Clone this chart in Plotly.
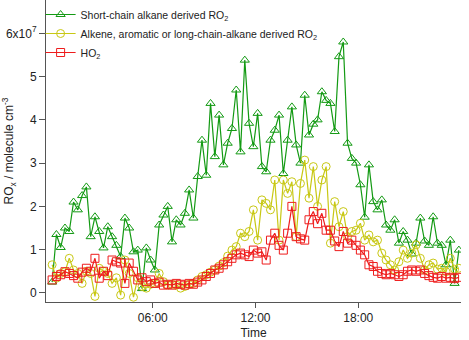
import plotly.graph_objects as go
import pandas as pd

# 15-minute time grid over one day
times = pd.date_range("2000-01-01 00:07:30", periods=96, freq="15min")

# values in units of 1e7 molecule cm^-3
short_chain_ro2 = [
    0.25, 1.35, 1.05, 1.50, 1.42, 2.10, 1.92, 2.25, 2.45, 1.30,
    1.76, 1.42, 1.04, 1.53, 1.30, 1.10, 0.84, 1.73, 1.50, 0.95,
    0.99, 0.10, 1.04, 0.76, 0.53, 1.57, 1.80, 2.00, 1.18, 1.69,
    1.57, 1.84, 2.38, 1.73, 2.69, 3.53, 2.72, 4.38, 3.15, 4.11,
    2.96, 3.46, 3.80, 4.69, 3.26, 5.38, 3.92, 3.38, 4.15, 2.92,
    2.80, 3.53, 3.76, 4.11, 2.76, 3.53, 4.30, 3.42, 3.00, 4.57,
    3.65, 3.90, 4.00, 4.65, 4.45, 4.38, 3.73, 5.46, 5.80, 3.46,
    3.11, 3.00, 2.50, 1.75, 2.96, 2.11, 1.92, 2.15, 1.57, 1.45,
    1.69, 1.15, 1.42, 1.22, 0.90, 1.15, 1.73, 1.20, 1.10, 1.76,
    1.15, 1.10, 0.65, 1.22, 0.22, 0.99,
]
alkene_ro2 = [
    0.65, 0.34, 0.45, 0.49, 0.80, 0.53, 0.45, 0.22, 0.50, 0.45,
    -0.08, 0.57, 0.50, 0.45, 0.22, 0.35, -0.05, 0.76, 0.45, -0.10,
    0.35, 0.15, 0.11, 0.20, 0.22, 0.45, 0.26, 0.18, 0.20, 0.18,
    0.11, 0.15, 0.20, 0.22, 0.30, 0.38, 0.42, 0.48, 0.53, 0.62,
    0.70, 0.85, 0.99, 1.07, 1.38, 1.30, 1.42, 1.92, 1.22, 2.15,
    2.07, 1.92, 2.61, 1.22, 2.61, 2.30, 2.57, 1.30, 2.53, 3.07,
    2.19, 2.92, 2.00, 2.61, 2.92, 1.15, 2.11, 1.53, 1.88, 1.30,
    1.42, 1.45, 1.61, 1.22, 1.34, 1.18, 1.22, 0.92, 0.76, 0.65,
    0.53, 0.72, 0.99, 0.80, 0.92, 1.11, 0.80, 0.53, 0.65, 0.69,
    0.55, 0.57, 0.49, 0.80, 0.55, 0.57,
]
ho2 = [
    0.30, 0.38, 0.42, 0.49, 0.45, 0.40, 0.34, 0.48, 0.57, 0.50,
    0.80, 0.34, 0.50, 0.40, 0.76, 0.72, 0.69, 0.22, 0.69, 0.50,
    0.30, 0.35, 0.26, 0.30, 0.22, 0.25, 0.18, 0.20, 0.18, 0.22,
    0.20, 0.18, 0.22, 0.20, 0.25, 0.30, 0.38, 0.45, 0.53, 0.57,
    0.65, 0.72, 0.80, 0.88, 0.92, 0.88, 0.84, 0.99, 0.92, 0.95,
    0.76, 1.22, 1.38, 1.10, 0.99, 1.38, 2.00, 1.30, 1.25, 1.22,
    1.69, 1.88, 1.60, 1.84, 1.45, 1.45, 1.20, 1.07, 1.42, 1.15,
    1.22, 1.10, 0.99, 0.88, 0.65, 0.61, 0.50, 0.45, 0.42, 0.45,
    0.42, 0.38, 0.42, 0.50, 0.53, 0.50, 0.53, 0.45, 0.40, 0.36,
    0.34, 0.38, 0.34, 0.36, 0.33, 0.36,
]

series_names = [
    "Short-chain alkane derived RO<sub>2</sub>",
    "Alkene, aromatic or long-chain-alkane derived RO<sub>2</sub>",
    "HO<sub>2</sub>",
]
y_tick_vals = [0, 1, 2, 3, 4, 5, 6]
y_tick_text = ["0", "1", "2", "3", "4", "5", "6x10<sup>7</sup>"]

colors = ["#139a13", "#c8c814", "#ee1c1c"]
symbols = ["triangle-up-open", "circle-open", "square-open"]

fig = go.Figure()
for name, vals, c, s in zip(series_names, [short_chain_ro2, alkene_ro2, ho2], colors, symbols):
    fig.add_trace(go.Scatter(
        x=times, y=vals, name=name, mode="lines+markers",
        line=dict(color=c, width=1.2),
        marker=dict(symbol=s, size=8, color=c, line=dict(color=c, width=1)),
    ))

t0 = pd.Timestamp("2000-01-01")
fig.update_layout(
    width=469, height=340,
    margin=dict(l=46, r=8, t=0, b=38),
    paper_bgcolor="white", plot_bgcolor="white",
    font=dict(family="Liberation Sans, Arial, sans-serif", size=12, color="#222"),
    showlegend=True,
    legend=dict(x=-0.013, y=1.0, xanchor="left", yanchor="top",
                bgcolor="rgba(0,0,0,0)", font=dict(size=10.5), tracegroupgap=0),
    xaxis=dict(
        type="date", automargin=False,
        range=[t0 - pd.Timedelta(minutes=14), t0 + pd.Timedelta(hours=24)],
        tickvals=[t0 + pd.Timedelta(hours=6), t0 + pd.Timedelta(hours=12), t0 + pd.Timedelta(hours=18)],
        ticktext=["06:00", "12:00", "18:00"],
        showgrid=False, zeroline=False,
        showline=True, linecolor="#555", linewidth=1,
        ticks="outside", ticklen=5, tickcolor="#555",
        title=dict(text="Time", standoff=8, font=dict(size=12)),
    ),
    yaxis=dict(
        range=[-0.21, 6.77], automargin=False,
        tickvals=y_tick_vals, ticktext=y_tick_text,
        showgrid=False, zeroline=False,
        showline=True, linecolor="#555", linewidth=1,
        ticks="outside", ticklen=6, tickcolor="#555",
        title=dict(text="RO<sub>x</sub> / molecule cm<sup>-3</sup>", standoff=4, font=dict(size=12)),
    ),
)

fig.write_html("out.html")
